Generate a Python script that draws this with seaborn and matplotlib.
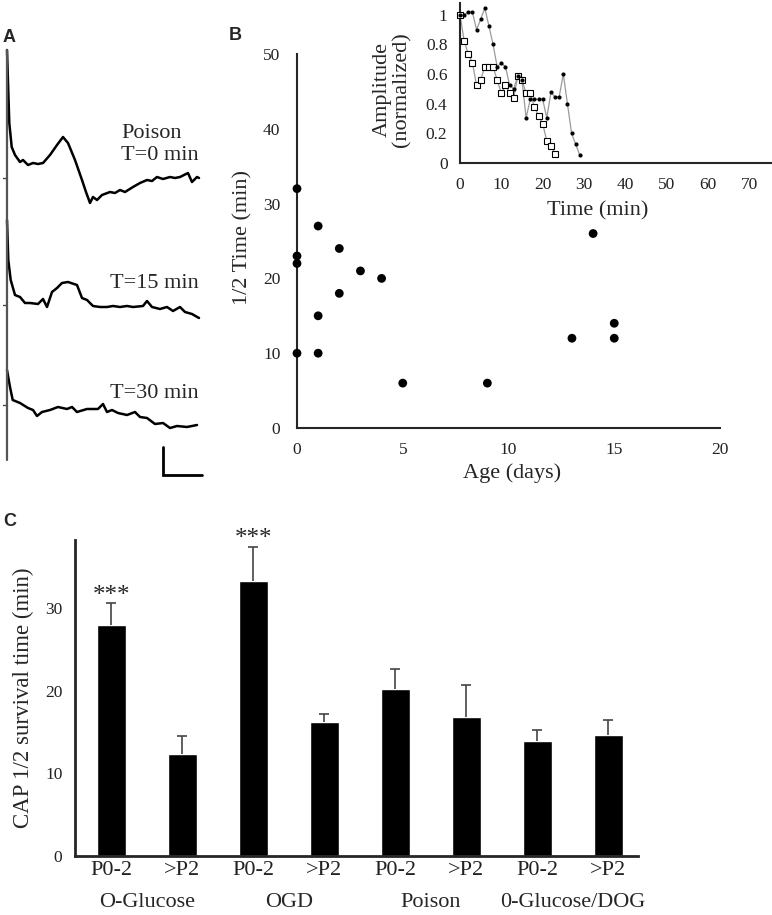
import numpy as np
import pandas as pd
import matplotlib
matplotlib.use("Agg")
import matplotlib.pyplot as plt
import seaborn as sns

# ---------------- Panel A: CAP traces (time, amplitude above baseline) -------------
trace1_t = [7, 9.3, 11.7, 15, 20, 23, 28, 33, 38, 43, 50, 57, 63, 68, 75, 82, 86, 90, 93,
            97, 102, 110, 115, 120, 125, 133, 140, 147, 152, 157, 163, 170, 175, 180, 188,
            192, 197, 199]
trace1_amp = [128, 55, 31, 23, 16, 18, 13, 15, 14, 15, 23, 33, 41, 35, 18, -2, -14, -25, -19,
              -22, -17, -14, -15, -12, -14, -9, -5, -2, -3, 1, -1, 1, 0, 1, 5, -4, 1, 0]
trace2_t = [7, 8.3, 10.7, 15, 20, 25, 30, 38, 43, 47, 52, 57, 62, 68, 77, 82, 87, 93, 100,
            107, 113, 120, 127, 133, 143, 147, 152, 160, 167, 173, 180, 185, 192, 199]
trace2_amp = [85, 45, 25, 10, 8, 2, 2, 1, 6, -2, 13, 17, 22, 23, 20, 7, 5, -1, -2,
              -2, -1, -2, -1, -2, -1, 4, -2, -4, -2, -6, -2, -7, -9, -13]
trace3_t = [7, 10, 12.7, 20, 28, 33, 37, 42, 50, 58, 67, 72, 77, 87, 98, 103, 107, 112, 118,
            127, 135, 140, 147, 155, 163, 170, 177, 187, 197]
trace3_amp = [35, 18, 5, 2, -3, -5, -11, -7, -5, -2, -4, -2, -7, -4, -4, 1, -7, -5, -8,
              -10, -7, -12, -13, -19, -18, -23, -21, -22, -20]
trace_labels = ["T=0 min", "T=15 min", "T=30 min"]

# ---------------- Panel B: half time vs age ----------------
age_days = [0, 0, 0, 0, 1, 1, 1, 2, 2, 3, 4, 5, 9, 13, 14, 15, 15]
half_time = [32, 23, 22, 10, 27, 15, 10, 24, 18, 21, 20, 6, 6, 12, 26, 14, 12]

# inset: normalized amplitude vs time
dots_time = list(range(30))
dots_amp = [1.0, 1.0, 1.02, 1.02, 0.90, 0.97, 1.045, 0.925, 0.80, 0.65, 0.675, 0.65, 0.526,
            0.50, 0.59, 0.56, 0.305, 0.43, 0.43, 0.43, 0.43, 0.305, 0.476, 0.447, 0.447,
            0.60, 0.40, 0.20, 0.126, 0.052]
squares_time = list(range(24))
squares_amp = [1.0, 0.826, 0.736, 0.677, 0.526, 0.56, 0.65, 0.65, 0.65, 0.56, 0.47, 0.526,
               0.47, 0.44, 0.59, 0.56, 0.47, 0.47, 0.38, 0.32, 0.266, 0.15, 0.117, 0.063]

# ---------------- Panel C: survival time bars ----------------
groups = ["O-Glucose", "OGD", "Poison", "0-Glucose/DOG"]
ages = ["P0-2", ">P2"]
survival_mean = [28.0, 12.3, 33.3, 16.2, 20.2, 16.8, 13.9, 14.7]
survival_err = [2.6, 2.2, 4.2, 1.0, 2.5, 3.9, 1.4, 1.8]
stars = ["***", "", "***", "", "", "", "", ""]

# ---------------- figure ----------------
sns.set_style("white")
plt.rcParams["font.family"] = ["Liberation Serif", "DejaVu Serif"]
plt.rcParams["axes.linewidth"] = 1.5
plt.rcParams["xtick.color"] = "#222222"
plt.rcParams["ytick.color"] = "#222222"

W, H = 772, 915
fig = plt.figure(figsize=(W / 100, H / 100), dpi=100)


def box(l, t, r, b):
    return [l / W, 1 - b / H, (r - l) / W, (b - t) / H]


# ---- Panel A ----
axA = fig.add_axes(box(0, 40, 210, 480))
axA.set_xlim(0, 210)
axA.set_ylim(480, 40)
axA.axis("off")
baselines = [178, 305, 405]
for t, amp, base in zip([trace1_t, trace2_t, trace3_t],
                        [trace1_amp, trace2_amp, trace3_amp], baselines):
    sns.lineplot(x=t, y=base - np.array(amp), ax=axA, color="black", lw=1.8,
                 sort=False, estimator=None)
    axA.plot([3, 7], [base, base], color="#444444", lw=1)
axA.plot([7, 7], [50, 460], color="#555555", lw=1.6)
# scale bar
axA.plot([163, 163, 202], [447, 475, 475], color="black", lw=2, solid_joinstyle="miter")
axA.text(152, 134, "Poison", ha="center", va="center", fontsize=16)
for lab, yy in zip(trace_labels, [156, 283, 393]):
    axA.text(199, yy, lab, ha="right", va="center", fontsize=16)

# ---- Panel B main ----
axB = fig.add_axes(box(297, 54, 720, 428))
axB.patch.set_alpha(0)
sns.scatterplot(x=age_days, y=half_time, ax=axB, color="black", s=40,
                edgecolor="none", clip_on=False, zorder=3)
axB.set_xlim(0, 20)
axB.set_ylim(0, 50)
axB.set_xticks([0, 5, 10, 15, 20])
axB.set_yticks([0, 10, 20, 30, 40, 50])
axB.tick_params(axis="both", direction="out", length=3, width=1, labelsize=12.5)
axB.tick_params(axis="x", pad=7)
axB.tick_params(axis="y", pad=9)
sns.despine(ax=axB)
axB.set_xlabel("Age (days)", fontsize=16)
axB.set_ylabel("1/2 Time (min)", fontsize=16)
axB.xaxis.set_label_coords(0.508, -0.095)
axB.yaxis.set_label_coords(-0.105, 0.51)

# ---- Panel B inset ----
axI = fig.add_axes(box(460, 3, 772, 163))
axI.patch.set_alpha(0)
sns.lineplot(x=squares_time, y=squares_amp, ax=axI, color="#9a9a9a", lw=0.9,
             sort=False, estimator=None)
sns.lineplot(x=dots_time, y=dots_amp, ax=axI, color="#9a9a9a", lw=0.9,
             sort=False, estimator=None)
axI.plot(squares_time, squares_amp, ls="none", marker="s", ms=3.8, mfc="white",
         mec="black", mew=0.8, clip_on=False, zorder=3)
axI.plot(dots_time, dots_amp, ls="none", marker="o", ms=3.0, mfc="black",
         mec="black", mew=0, clip_on=False, zorder=4)
axI.set_xlim(0, 75.5)
axI.set_ylim(0, 1.08)
axI.set_xticks(range(0, 71, 10))
axI.set_yticks([0, 0.2, 0.4, 0.6, 0.8, 1.0])
axI.set_yticklabels(["0", "0.2", "0.4", "0.6", "0.8", "1"])
axI.tick_params(axis="both", direction="out", length=3, width=1, labelsize=12.5)
axI.tick_params(axis="x", pad=7)
axI.tick_params(axis="y", pad=6)
sns.despine(ax=axI)
axI.set_xlabel("Time (min)", fontsize=16)
axI.set_ylabel("Amplitude\n(normalized)", fontsize=16, linespacing=1.05)
axI.xaxis.set_label_coords(0.442, -0.24)
axI.yaxis.set_label_coords(-0.155, 0.46)

# ---- Panel C ----
axC = fig.add_axes(box(75, 540, 638, 855.7))
cats = [f"{g}|{a}" for g in groups for a in ages]
dfC = pd.DataFrame({"cat": cats, "mean": survival_mean, "err": survival_err})
sns.barplot(data=dfC, x="cat", y="mean", order=cats, color="black", width=0.41,
            errorbar=None, ax=axC, saturation=1)
pos = np.arange(len(cats))
eb = axC.errorbar(pos, dfC["mean"], yerr=[np.zeros(len(cats)), dfC["err"]], fmt="none",
                  ecolor="#444444", elinewidth=1.2, capsize=3.5, capthick=1.2, zorder=1)
eb[1][0].set_visible(False)  # hide lower caps
for p, m, e, s in zip(pos, survival_mean, survival_err, stars):
    if s:
        axC.text(p, m + e + 0.2, s, ha="center", va="baseline", fontsize=18,
                 clip_on=False)
axC.set_xlim(-0.51, 7.42)
axC.set_ylim(0, 38.3)
axC.set_yticks([0, 10, 20, 30])
axC.set_xticks(pos)
axC.set_xticklabels([c.split("|")[1] for c in cats], fontsize=16)
axC.tick_params(axis="x", length=0, pad=4)
axC.tick_params(axis="y", direction="out", length=4, width=1, labelsize=12.5, pad=5)
for sp in ["left", "bottom"]:
    axC.spines[sp].set_linewidth(2)
sns.despine(ax=axC)
axC.set_xlabel("")
axC.set_ylabel("CAP 1/2 survival time (min)", fontsize=16.5)
axC.yaxis.set_label_coords(-0.072, 0.5)
for i, g in enumerate(groups):
    axC.text(2 * i + 0.5, -0.148, g, transform=axC.get_xaxis_transform(),
             ha="center", va="center", fontsize=16)

# panel letters
for lab, (x, y) in zip("ABC", [(3, 38), (229, 35), (3, 521)]):
    fig.text(x / W, 1 - y / H, lab, ha="left", va="center", fontsize=13,
             fontweight="bold", family=["Liberation Sans", "DejaVu Sans"])

fig.savefig("out.png", dpi=100)
